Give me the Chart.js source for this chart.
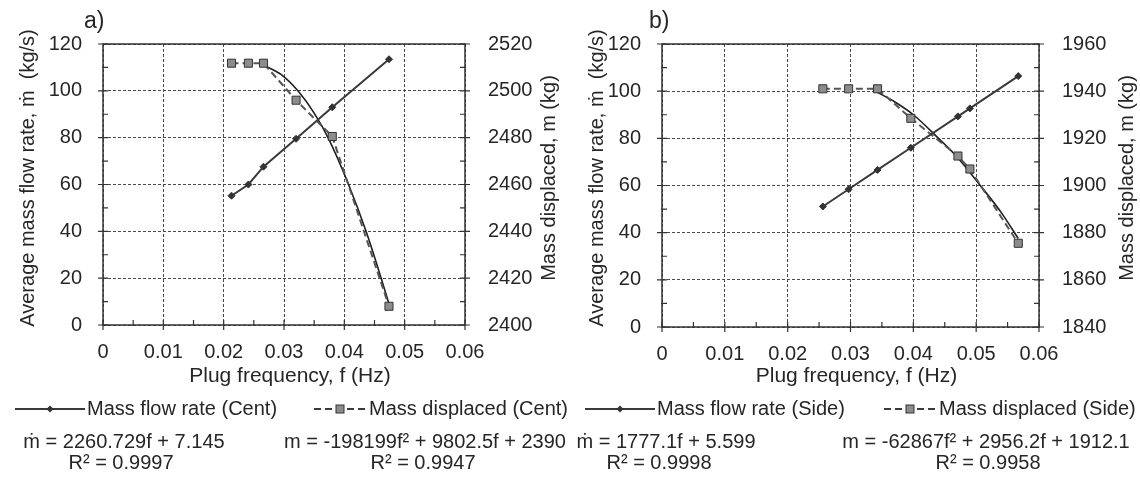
<!DOCTYPE html>
<html>
<head>
<meta charset="utf-8">
<script src="https://cdn.jsdelivr.net/npm/chart.js@4"></script>
<style>
  html, body { margin: 0; padding: 0; background: #fff; }
  #wrap { position: relative; width: 1140px; height: 481px; }
  .panel { position: absolute; top: 0; width: 570px; height: 481px; }
</style>
</head>
<body>
<div id="wrap">
  <div class="panel" style="left:0"><canvas id="cent" width="570" height="481"></canvas></div>
  <div class="panel" style="left:570px"><canvas id="side" width="570" height="481"></canvas></div>
</div>
<script>
// central plug injection
const freqCent = [0.0213, 0.0241, 0.0266, 0.0320, 0.0380, 0.0474];
const flowCent = [55.2, 60.0, 67.6, 79.5, 93.0, 113.5];
const massCent = [2511.8, 2511.8, 2511.8, 2496.0, 2480.5, 2408.0];
// fitted curve for displaced mass (central)
const trendCentF = [0.0266, 0.0295, 0.0323, 0.0350, 0.0373, 0.0407, 0.0436, 0.0461, 0.0474];
const trendCentM = [2511.0, 2507.0, 2500.0, 2490.5, 2480.0, 2460.0, 2440.0, 2420.0, 2409.0];

// side plug injection
const freqSide = [0.0256, 0.0297, 0.0343, 0.0396, 0.0471, 0.0490, 0.0567];
const flowSide = [51.1, 58.4, 66.6, 76.0, 89.3, 92.7, 106.4];
const massSide = [1941.0, 1941.0, 1941.0, 1928.5, 1912.5, 1907.0, 1875.5];
const trendSideF = [0.0343, 0.0370, 0.0400, 0.0440, 0.0470, 0.0505, 0.0540, 0.0567];
const trendSideM = [1939.5, 1935.5, 1930.0, 1920.0, 1912.0, 1900.5, 1888.5, 1877.5];

const freqTicks = [0, 0.01, 0.02, 0.03, 0.04, 0.05, 0.06];
const flowRange = [0, 120];
const massRangeCent = [2400, 2520];
const massRangeSide = [1840, 1960];

const eqCent = ['ṁ = 2260.729f + 7.145', 'R² = 0.9997', 'm = -198199f² + 9802.5f + 2390', 'R² = 0.9947'];
const eqSide = ['ṁ = 1777.1f + 5.599', 'R² = 0.9998', 'm = -62867f² + 2956.2f + 1912.1', 'R² = 0.9958'];

const INK = '#262626';
const FONT = "'Liberation Sans', Arial, sans-serif";
Chart.defaults.font.family = FONT;
Chart.defaults.font.size = 20;
Chart.defaults.color = INK;

const pts = (xs, ys) => xs.map((x, i) => ({ x: x, y: ys[i] }));

function drawMarker(ctx, kind, x, y) {
    ctx.save();
    ctx.setLineDash([]);
    if (kind === 'diamond') {
        ctx.fillStyle = '#333';
        ctx.beginPath();
        ctx.moveTo(x, y - 3.5); ctx.lineTo(x + 3.5, y); ctx.lineTo(x, y + 3.5); ctx.lineTo(x - 3.5, y);
        ctx.closePath();
        ctx.fill();
    } else {
        ctx.fillStyle = '#8c8c8c';
        ctx.strokeStyle = '#333';
        ctx.lineWidth = 1;
        ctx.fillRect(x - 4, y - 4, 8, 8);
        ctx.strokeRect(x - 4, y - 4, 8, 8);
    }
    ctx.restore();
}

// frame, tick marks, axis titles, legend and fit equations
const decor = {
    id: 'decor',
    afterDraw(chart, args, o) {
        const ctx = chart.ctx;
        const { left, right, top, bottom } = chart.chartArea;
        const sx = chart.scales.x, sy = chart.scales.y;
        ctx.save();
        ctx.strokeStyle = '#333';
        ctx.lineWidth = 1.5;
        ctx.setLineDash([]);
        ctx.strokeRect(left, top, right - left, bottom - top);

        ctx.lineWidth = 1.2;
        ctx.beginPath();
        for (let i = 0; i <= 12; i++) {
            const px = sx.getPixelForValue(i * 0.005);
            if (i % 2 === 0) { ctx.moveTo(px, bottom - 5); ctx.lineTo(px, bottom + 5); }
            else { ctx.moveTo(px, bottom - 5); ctx.lineTo(px, bottom + 1); }
        }
        for (let i = 0; i <= 12; i++) {
            const py = sy.getPixelForValue(i * 10);
            if (i % 2 === 0) {
                ctx.moveTo(left - 5, py); ctx.lineTo(left + 5, py);
                ctx.moveTo(right - 5, py); ctx.lineTo(right + 5, py);
            } else {
                ctx.moveTo(left - 1, py); ctx.lineTo(left + 5, py);
                ctx.moveTo(right - 5, py); ctx.lineTo(right + 1, py);
            }
        }
        ctx.stroke();

        ctx.fillStyle = INK;
        ctx.textBaseline = 'middle';
        ctx.textAlign = 'center';
        ctx.font = '21px ' + FONT;
        ctx.fillText('Plug frequency, f (Hz)', (left + right) / 2 + 6, 376);

        ctx.font = '20px ' + FONT;
        const midY = o.titleY;
        ctx.save();
        ctx.translate(o.yTitleX, midY);
        ctx.rotate(-Math.PI / 2);
        ctx.fillText('Average mass flow rate, ṁ  (kg/s)', 0, 0);
        ctx.restore();
        ctx.save();
        ctx.translate(o.y1TitleX, midY);
        ctx.rotate(-Math.PI / 2);
        ctx.fillText('Mass displaced, m (kg)', 0, 0);
        ctx.restore();

        ctx.textAlign = 'left';
        ctx.font = '23px ' + FONT;
        ctx.fillText(o.panel, o.panelX, 22);

        // legend
        const ly = 409;
        ctx.font = '20px ' + FONT;
        ctx.strokeStyle = '#3a3a3a';
        ctx.lineWidth = 2;
        ctx.beginPath();
        ctx.moveTo(o.leg[0], ly); ctx.lineTo(o.leg[1], ly);
        ctx.stroke();
        drawMarker(ctx, 'diamond', (o.leg[0] + o.leg[1]) / 2, ly);
        ctx.fillText('Mass flow rate (' + o.tag + ')', o.leg[2], ly);

        ctx.setLineDash([7, 4]);
        ctx.beginPath();
        ctx.moveTo(o.leg[3], ly); ctx.lineTo(o.leg[4], ly);
        ctx.stroke();
        ctx.setLineDash([]);
        drawMarker(ctx, 'square', (o.leg[3] + o.leg[4]) / 2, ly);
        ctx.fillText('Mass displaced (' + o.tag + ')', o.leg[5], ly);

        // trendline equations
        ctx.textAlign = 'center';
        ctx.fillText(o.eq[0], o.eqX[0], 442);
        ctx.fillText(o.eq[1], o.eqX[1], 463);
        ctx.fillText(o.eq[2], o.eqX[2], 442);
        ctx.fillText(o.eq[3], o.eqX[3], 463);
        ctx.restore();
    }
};

function makeChart(id, c) {
    const gridOpts = { color: '#4a4a4a', lineWidth: 1, drawTicks: false };
    return new Chart(document.getElementById(id), {
        type: 'line',
        data: {
            datasets: [{
                label: 'Mass flow rate (' + c.tag + ')',
                data: pts(c.freq, c.flow),
                yAxisID: 'y',
                borderColor: '#3a3a3a',
                borderWidth: 2,
                pointStyle: 'rectRot',
                pointRadius: 3.5,
                pointBackgroundColor: '#333',
                pointBorderColor: '#333',
                pointBorderWidth: 1
            }, {
                label: 'Mass displaced (' + c.tag + ')',
                data: pts(c.freq, c.mass),
                yAxisID: 'y1',
                borderColor: '#555',
                borderWidth: 2,
                borderDash: [7, 4],
                pointStyle: 'rect',
                pointRadius: 5.7,
                pointBackgroundColor: '#8c8c8c',
                pointBorderColor: '#333',
                pointBorderWidth: 1
            }, {
                label: 'Poly. fit',
                data: pts(c.trendF, c.trendM),
                yAxisID: 'y1',
                borderColor: '#1e1e1e',
                borderWidth: 1.6,
                pointRadius: 0,
                cubicInterpolationMode: 'monotone'
            }]
        },
        options: {
            responsive: false,
            animation: false,
            events: [],
            layout: { padding: { left: 0, right: 0, top: 44, bottom: 481 - c.bottom - 60 } },
            plugins: {
                legend: { display: false },
                tooltip: { enabled: false },
                decor: c.decor
            },
            scales: {
                x: {
                    type: 'linear',
                    min: freqTicks[0],
                    max: freqTicks[freqTicks.length - 1],
                    afterFit: (s) => { s.height = 60; },
                    afterBuildTicks: (s) => { s.ticks = freqTicks.map((v) => ({ value: v })); },
                    ticks: { padding: 15, callback: (v) => String(+v.toFixed(2)) },
                    grid: gridOpts,
                    border: { display: false, dash: [3, 2] }
                },
                y: {
                    position: 'left',
                    min: flowRange[0],
                    max: flowRange[1],
                    afterFit: (s) => { s.width = c.leftW; },
                    ticks: { stepSize: 20, padding: 21, callback: (v) => String(v) },
                    grid: gridOpts,
                    border: { display: false, dash: [3, 2] }
                },
                y1: {
                    position: 'right',
                    min: c.massRange[0],
                    max: c.massRange[1],
                    afterFit: (s) => { s.width = c.rightW; },
                    ticks: { stepSize: 20, padding: 23, callback: (v) => String(v) },
                    grid: { display: false, drawTicks: false },
                    border: { display: false }
                }
            }
        },
        plugins: [decor]
    });
}

makeChart('cent', {
    tag: 'Cent', freq: freqCent, flow: flowCent, mass: massCent,
    trendF: trendCentF, trendM: trendCentM, massRange: massRangeCent,
    leftW: 103, rightW: 105, bottom: 325,
    decor: {
        panel: 'a)', panelX: 84, tag: 'Cent', yTitleX: 28, y1TitleX: 549, titleY: 178,
        leg: [15, 85, 87, 314, 366, 369],
        eq: eqCent, eqX: [124, 121, 425, 423]
    }
});

makeChart('side', {
    tag: 'Side', freq: freqSide, flow: flowSide, mass: massSide,
    trendF: trendSideF, trendM: trendSideM, massRange: massRangeSide,
    leftW: 92, rightW: 101, bottom: 327,
    decor: {
        panel: 'b)', panelX: 79, tag: 'Side', yTitleX: 27, y1TitleX: 557, titleY: 178,
        leg: [15, 85, 87, 314, 366, 369],
        eq: eqSide, eqX: [96, 89, 416, 418]
    }
});
</script>
</body>
</html>
